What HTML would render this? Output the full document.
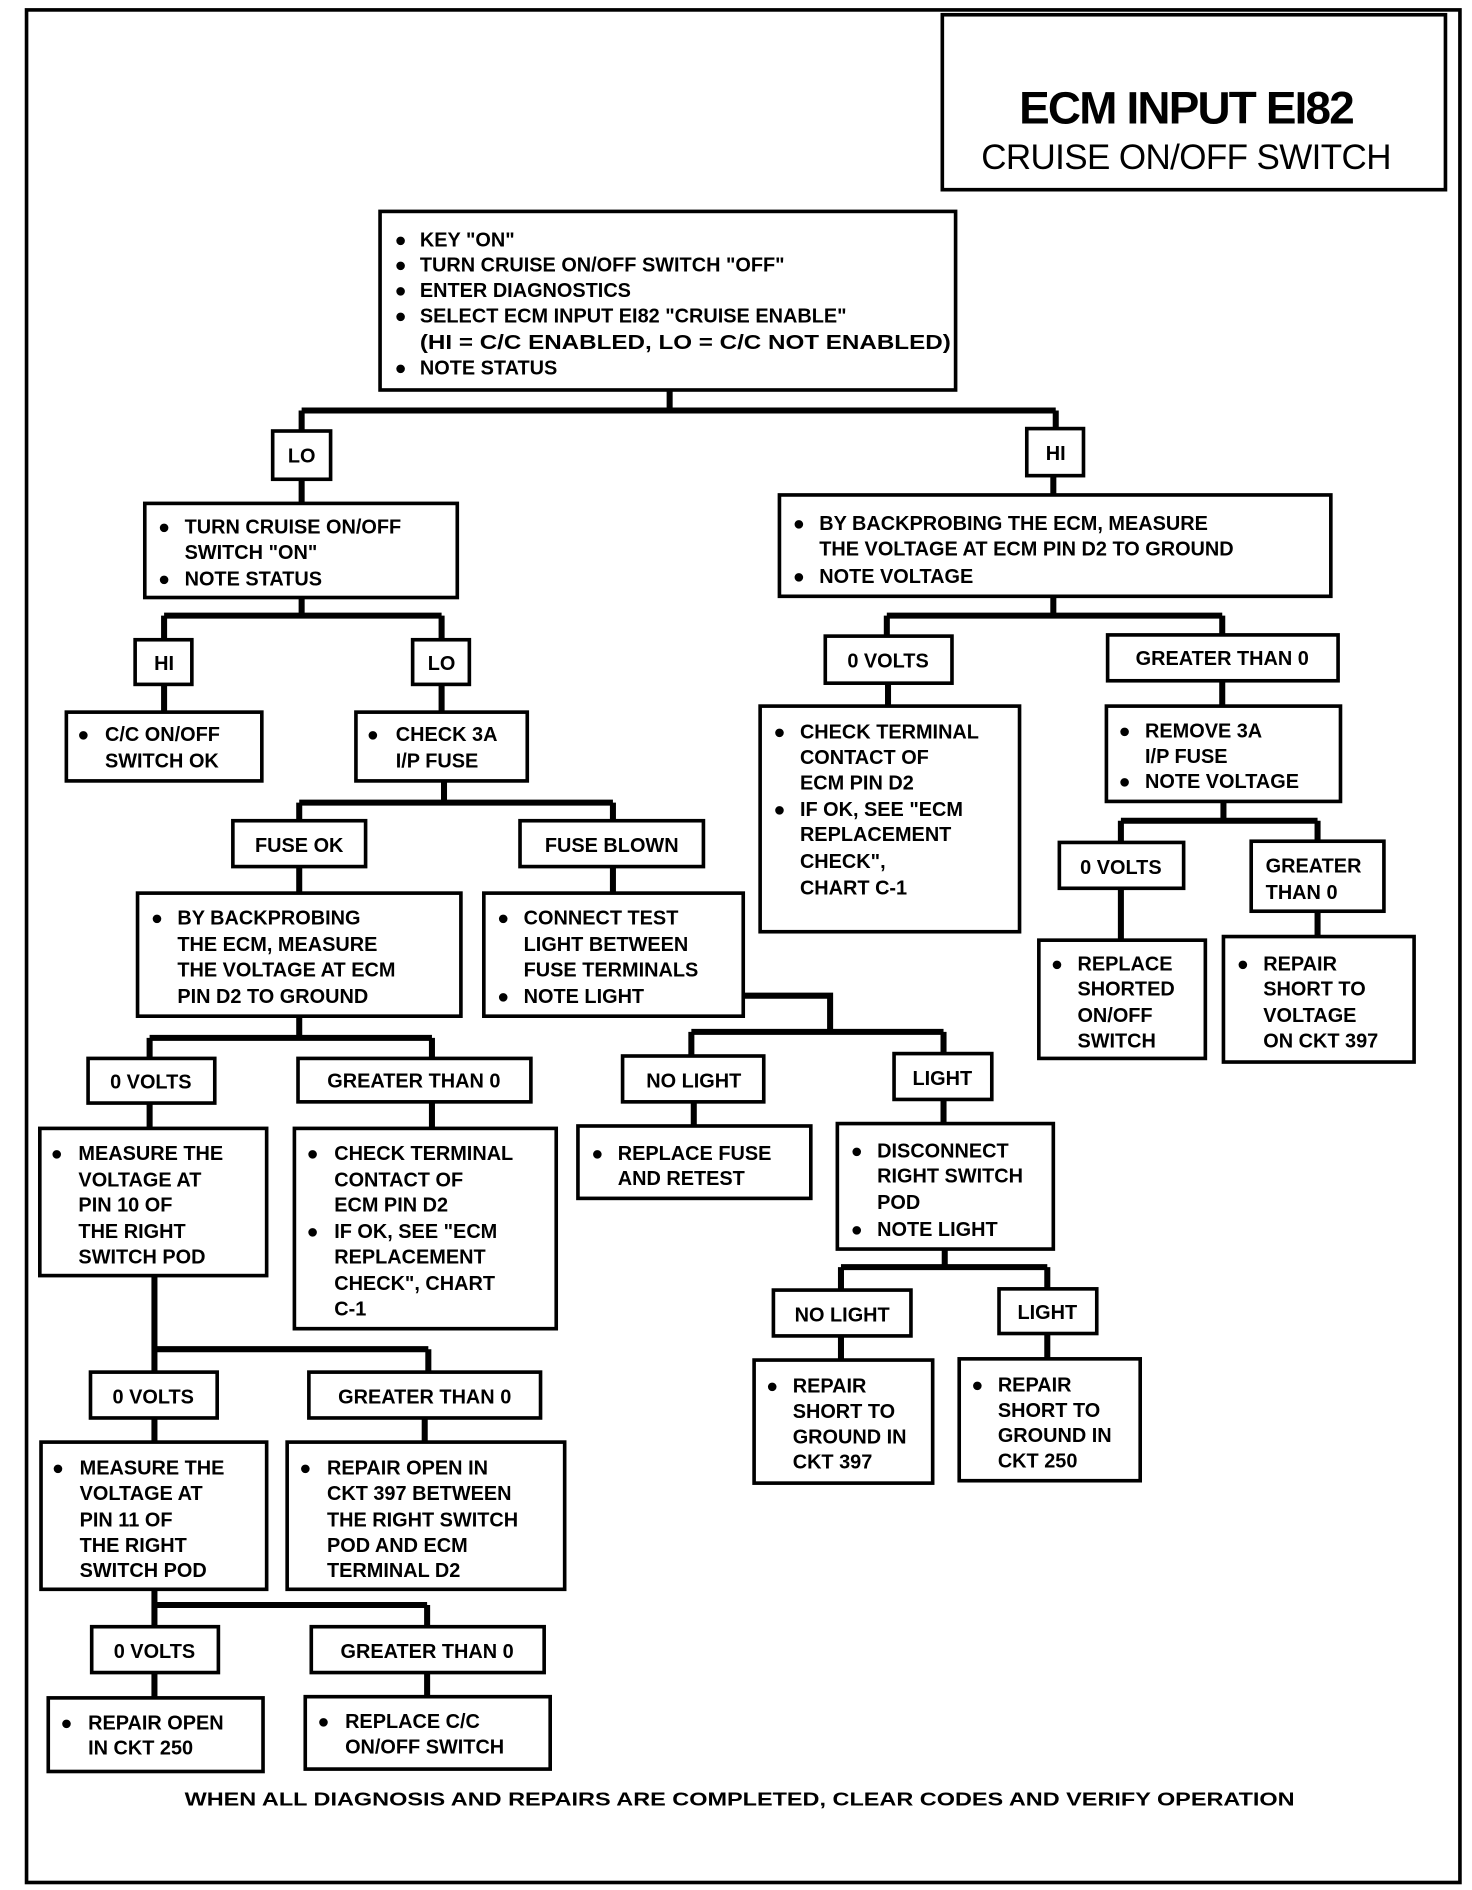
<!DOCTYPE html>
<html><head><meta charset="utf-8"><style>
html,body{margin:0;padding:0;background:#fff}
svg{display:block}
text{font-family:"Liberation Sans",Arial,sans-serif;font-weight:bold;font-size:16.5px;fill:#000}
.b{fill:#fff;stroke:#000;stroke-width:3}
.c{stroke:#000;stroke-width:5;fill:none}
.m{text-anchor:middle}
</style></head><body>
<svg width="1472" height="1890" viewBox="0 0 1220 1566" xmlns="http://www.w3.org/2000/svg">
<rect x="22" y="8" width="1188" height="1552" fill="none" stroke="#000" stroke-width="3"/>
<rect x="781" y="12" width="417" height="145" class="b"/>
<text x="983" y="102" class="m" style="font-size:38px;letter-spacing:-1.5px">ECM INPUT EI82</text>
<text x="983" y="140" class="m" style="font-size:29px;font-weight:normal;letter-spacing:-0.5px">CRUISE ON/OFF SWITCH</text>

<!-- connectors -->
<g class="c">
<path d="M555 323V340M250 340H875M250 340V357M875 340V355"/>
<path d="M250 397V417M250 495V510M136 510H366M136 510V530M366 510V530"/>
<path d="M136 567V590M366 567V590M368 647V665M248 665H508M248 665V680M508 665V680"/>
<path d="M248 718V740M508 718V740M248 842V860M124 860H358M124 860V877M358 860V877"/>
<path d="M616 825H688V855M573 855H782M573 855V875M782 855V873"/>
<path d="M124 914V935M358 913V935M575 913V933M782 911V931"/>
<path d="M783 1035V1050M697 1050H868M697 1050V1069M868 1050V1068M697 1107V1127M868 1105V1126"/>
<path d="M128 1057V1118M128 1118H355M128 1118V1137M355 1118V1137M128 1175V1195M352 1175V1195"/>
<path d="M128 1317V1330M128 1330H354M128 1330V1348M354 1330V1348M128 1386V1407M354 1386V1406"/>
<path d="M873 394V410M873 494V510M735 510H1013M735 510V527M1013 510V526M736 566V585M1013 564V585"/>
<path d="M1014 664V680M929 680H1092M929 680V698M1092 680V697M929 736V779M1092 755V776"/>
</g>

<!-- top box -->
<rect x="315" y="175" width="477" height="148" class="b"/>
<g>
<text x="327" y="204">●</text><text x="348" y="204">KEY "ON"</text>
<text x="327" y="225">●</text><text x="348" y="225">TURN CRUISE ON/OFF SWITCH "OFF"</text>
<text x="327" y="246">●</text><text x="348" y="246">ENTER DIAGNOSTICS</text>
<text x="327" y="267">●</text><text x="348" y="267">SELECT ECM INPUT EI82 "CRUISE ENABLE"</text>
<text x="348" y="289" textLength="440" lengthAdjust="spacingAndGlyphs">(HI = C/C ENABLED, LO = C/C NOT ENABLED)</text>
<text x="327" y="310">●</text><text x="348" y="310">NOTE STATUS</text>
</g>

<rect x="226" y="357" width="48" height="40" class="b"/><text x="250" y="383" class="m">LO</text>
<rect x="851" y="355" width="47" height="39" class="b"/><text x="875" y="381" class="m">HI</text>

<rect x="120" y="417" width="259" height="78" class="b"/>
<text x="131" y="442">●</text><text x="153" y="442">TURN CRUISE ON/OFF</text>
<text x="153" y="463">SWITCH "ON"</text>
<text x="131" y="485">●</text><text x="153" y="485">NOTE STATUS</text>

<rect x="112" y="530" width="47" height="37" class="b"/><text x="136" y="555" class="m">HI</text>
<rect x="342" y="530" width="47" height="37" class="b"/><text x="366" y="555" class="m">LO</text>

<rect x="55" y="590" width="162" height="57" class="b"/>
<text x="64" y="614">●</text><text x="87" y="614">C/C ON/OFF</text><text x="87" y="636">SWITCH OK</text>
<rect x="295" y="590" width="142" height="57" class="b"/>
<text x="304" y="614">●</text><text x="328" y="614">CHECK 3A</text><text x="328" y="636">I/P FUSE</text>

<rect x="193" y="680" width="110" height="38" class="b"/><text x="248" y="706" class="m">FUSE OK</text>
<rect x="431" y="680" width="152" height="38" class="b"/><text x="507" y="706" class="m">FUSE BLOWN</text>

<rect x="114" y="740" width="268" height="102" class="b"/>
<text x="125" y="766">●</text><text x="147" y="766">BY BACKPROBING</text>
<text x="147" y="788">THE ECM, MEASURE</text>
<text x="147" y="809">THE VOLTAGE AT ECM</text>
<text x="147" y="831">PIN D2 TO GROUND</text>

<rect x="401" y="740" width="215" height="102" class="b"/>
<text x="412" y="766">●</text><text x="434" y="766">CONNECT TEST</text>
<text x="434" y="788">LIGHT BETWEEN</text>
<text x="434" y="809">FUSE TERMINALS</text>
<text x="412" y="831">●</text><text x="434" y="831">NOTE LIGHT</text>

<rect x="73" y="877" width="105" height="37" class="b"/><text x="125" y="902" class="m">0 VOLTS</text>
<rect x="247" y="877" width="193" height="36" class="b"/><text x="343" y="901" class="m">GREATER THAN 0</text>
<rect x="516" y="875" width="117" height="38" class="b"/><text x="575" y="901" class="m">NO LIGHT</text>
<rect x="741" y="873" width="81" height="38" class="b"/><text x="781" y="899" class="m">LIGHT</text>

<rect x="33" y="935" width="188" height="122" class="b"/>
<text x="42" y="961">●</text><text x="65" y="961">MEASURE THE</text>
<text x="65" y="983">VOLTAGE AT</text><text x="65" y="1004">PIN 10 OF</text>
<text x="65" y="1026">THE RIGHT</text><text x="65" y="1047">SWITCH POD</text>

<rect x="244" y="935" width="217" height="166" class="b"/>
<text x="254" y="961">●</text><text x="277" y="961">CHECK TERMINAL</text>
<text x="277" y="983">CONTACT OF</text><text x="277" y="1004">ECM PIN D2</text>
<text x="254" y="1026">●</text><text x="277" y="1026">IF OK, SEE "ECM</text>
<text x="277" y="1047">REPLACEMENT</text><text x="277" y="1069">CHECK", CHART</text>
<text x="277" y="1090">C-1</text>

<rect x="479" y="933" width="193" height="60" class="b"/>
<text x="490" y="961">●</text><text x="512" y="961">REPLACE FUSE</text><text x="512" y="982">AND RETEST</text>

<rect x="694" y="931" width="179" height="104" class="b"/>
<text x="705" y="959">●</text><text x="727" y="959">DISCONNECT</text>
<text x="727" y="980">RIGHT SWITCH</text><text x="727" y="1002">POD</text>
<text x="705" y="1024">●</text><text x="727" y="1024">NOTE LIGHT</text>

<rect x="641" y="1069" width="114" height="38" class="b"/><text x="698" y="1095" class="m">NO LIGHT</text>
<rect x="828" y="1068" width="81" height="37" class="b"/><text x="868" y="1093" class="m">LIGHT</text>

<rect x="625" y="1127" width="148" height="102" class="b"/>
<text x="635" y="1154">●</text><text x="657" y="1154">REPAIR</text><text x="657" y="1175">SHORT TO</text>
<text x="657" y="1196">GROUND IN</text><text x="657" y="1217">CKT 397</text>
<rect x="795" y="1126" width="150" height="101" class="b"/>
<text x="805" y="1153">●</text><text x="827" y="1153">REPAIR</text><text x="827" y="1174">SHORT TO</text>
<text x="827" y="1195">GROUND IN</text><text x="827" y="1216">CKT 250</text>

<rect x="75" y="1137" width="105" height="38" class="b"/><text x="127" y="1163" class="m">0 VOLTS</text>
<rect x="256" y="1137" width="192" height="38" class="b"/><text x="352" y="1163" class="m">GREATER THAN 0</text>

<rect x="34" y="1195" width="187" height="122" class="b"/>
<text x="43" y="1222">●</text><text x="66" y="1222">MEASURE THE</text>
<text x="66" y="1243">VOLTAGE AT</text><text x="66" y="1265">PIN 11 OF</text>
<text x="66" y="1286">THE RIGHT</text><text x="66" y="1307">SWITCH POD</text>
<rect x="238" y="1195" width="230" height="122" class="b"/>
<text x="248" y="1222">●</text><text x="271" y="1222">REPAIR OPEN IN</text>
<text x="271" y="1243">CKT 397 BETWEEN</text><text x="271" y="1265">THE RIGHT SWITCH</text>
<text x="271" y="1286">POD AND ECM</text><text x="271" y="1307">TERMINAL D2</text>

<rect x="76" y="1348" width="105" height="38" class="b"/><text x="128" y="1374" class="m">0 VOLTS</text>
<rect x="258" y="1348" width="193" height="38" class="b"/><text x="354" y="1374" class="m">GREATER THAN 0</text>

<rect x="40" y="1407" width="178" height="61" class="b"/>
<text x="50" y="1433">●</text><text x="73" y="1433">REPAIR OPEN</text><text x="73" y="1454">IN CKT 250</text>
<rect x="253" y="1406" width="203" height="60" class="b"/>
<text x="263" y="1432">●</text><text x="286" y="1432">REPLACE C/C</text><text x="286" y="1453">ON/OFF SWITCH</text>

<text x="613" y="1496" class="m" textLength="920" lengthAdjust="spacingAndGlyphs" style="font-size:15.5px">WHEN ALL DIAGNOSIS AND REPAIRS ARE COMPLETED, CLEAR CODES AND VERIFY OPERATION</text>

<!-- right side -->
<rect x="646" y="410" width="457" height="84" class="b"/>
<text x="657" y="439">●</text><text x="679" y="439">BY BACKPROBING THE ECM, MEASURE</text>
<text x="679" y="460">THE VOLTAGE AT ECM PIN D2 TO GROUND</text>
<text x="657" y="483">●</text><text x="679" y="483">NOTE VOLTAGE</text>

<rect x="684" y="527" width="105" height="39" class="b"/><text x="736" y="553" class="m">0 VOLTS</text>
<rect x="918" y="526" width="191" height="38" class="b"/><text x="1013" y="551" class="m">GREATER THAN 0</text>

<rect x="630" y="585" width="215" height="187" class="b"/>
<text x="641" y="612">●</text><text x="663" y="612">CHECK TERMINAL</text>
<text x="663" y="633">CONTACT OF</text><text x="663" y="654">ECM PIN D2</text>
<text x="641" y="676">●</text><text x="663" y="676">IF OK, SEE "ECM</text>
<text x="663" y="697">REPLACEMENT</text><text x="663" y="719">CHECK",</text>
<text x="663" y="741">CHART C-1</text>

<rect x="917" y="585" width="194" height="79" class="b"/>
<text x="927" y="611">●</text><text x="949" y="611">REMOVE 3A</text>
<text x="949" y="632">I/P FUSE</text>
<text x="927" y="653">●</text><text x="949" y="653">NOTE VOLTAGE</text>

<rect x="878" y="698" width="103" height="38" class="b"/><text x="929" y="724" class="m">0 VOLTS</text>
<rect x="1037" y="697" width="110" height="58" class="b"/>
<text x="1049" y="723">GREATER</text><text x="1049" y="745">THAN 0</text>

<rect x="861" y="779" width="138" height="98" class="b"/>
<text x="871" y="804">●</text><text x="893" y="804">REPLACE</text>
<text x="893" y="825">SHORTED</text><text x="893" y="847">ON/OFF</text><text x="893" y="868">SWITCH</text>
<rect x="1014" y="776" width="158" height="104" class="b"/>
<text x="1025" y="804">●</text><text x="1047" y="804">REPAIR</text>
<text x="1047" y="825">SHORT TO</text><text x="1047" y="847">VOLTAGE</text><text x="1047" y="868">ON CKT 397</text>
</svg>
</body></html>
